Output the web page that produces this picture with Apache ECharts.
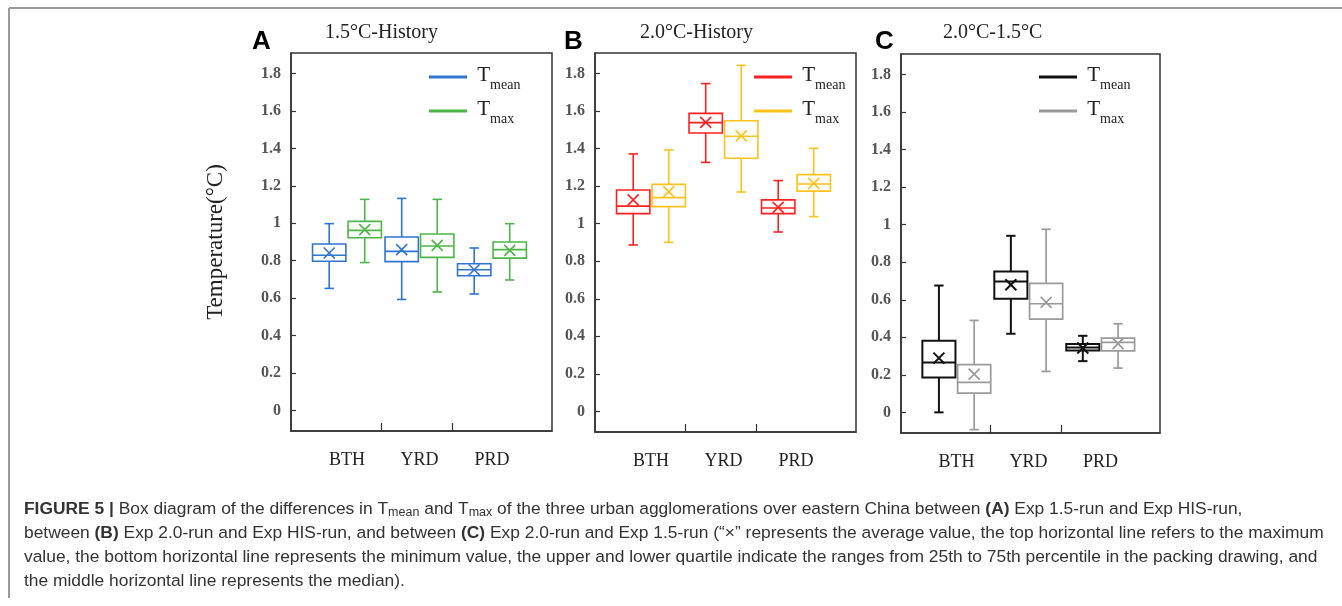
<!DOCTYPE html>
<html>
<head>
<meta charset="utf-8">
<script src="https://cdn.jsdelivr.net/npm/echarts@6/dist/echarts.min.js"></script>
<style>
  html, body { margin: 0; padding: 0; background: #fff; }
  #chart { width: 1342px; height: 606px; }
</style>
</head>
<body>
<div id="chart"></div>
<script>
// data: each box = [min, Q1, median, Q3, max]
const categories = ['BTH', 'YRD', 'PRD'];
const yTicks = [0, 0.2, 0.4, 0.6, 0.8, 1, 1.2, 1.4, 1.6, 1.8];

const tmeanA = [[0.652, 0.797, 0.829, 0.889, 0.998], [0.593, 0.795, 0.850, 0.927, 1.133], [0.622, 0.720, 0.752, 0.784, 0.868]];
const tmeanAvgA = [0.841, 0.859, 0.752];
const tmaxA = [[0.790, 0.923, 0.962, 1.010, 1.128], [0.633, 0.818, 0.879, 0.943, 1.128], [0.697, 0.814, 0.859, 0.900, 0.998]];
const tmaxAvgA = [0.966, 0.882, 0.855];

const tmeanB = [[0.887, 1.054, 1.094, 1.180, 1.372], [1.327, 1.484, 1.539, 1.588, 1.747], [0.956, 1.054, 1.084, 1.127, 1.230]];
const tmeanAvgB = [1.127, 1.540, 1.087];
const tmaxB = [[0.901, 1.091, 1.139, 1.210, 1.393], [1.169, 1.349, 1.466, 1.549, 1.844], [1.038, 1.174, 1.212, 1.262, 1.402]];
const tmaxAvgB = [1.171, 1.468, 1.215];

const tmeanC = [[0.000, 0.186, 0.266, 0.382, 0.676], [0.419, 0.605, 0.698, 0.751, 0.941], [0.273, 0.330, 0.346, 0.364, 0.408]];
const tmeanAvgC = [0.289, 0.680, 0.343];
const tmaxC = [[-0.092, 0.103, 0.160, 0.254, 0.490], [0.218, 0.497, 0.579, 0.687, 0.976], [0.236, 0.328, 0.373, 0.396, 0.472]];
const tmaxAvgC = [0.204, 0.586, 0.366];

const SERIF = "'Liberation Serif', 'Times New Roman', serif";
const SANS = "'Liberation Sans', Arial, sans-serif";
const BOX_SHIFT = 0.245, BOX_W = 0.46, CAP_W = 0.13, CROSS = 5.5;

const panels = [
  { key: 'A', title: '1.5°C-History', left: 291, top: 53, width: 261, height: 378, titleX: 325, letterX: 252, legendX: 429,
    mean: tmeanA, meanAvg: tmeanAvgA, max: tmaxA, maxAvg: tmaxAvgA, colors: ['#2f74d0', '#4db648'], widths: [1.6, 1.6] },
  { key: 'B', title: '2.0°C-History', left: 595, top: 53, width: 261, height: 379, titleX: 640, letterX: 564, legendX: 754,
    mean: tmeanB, meanAvg: tmeanAvgB, max: tmaxB, maxAvg: tmaxAvgB, colors: ['#ff2020', '#ffc21a'], widths: [1.6, 1.6] },
  { key: 'C', title: '2.0°C-1.5°C', left: 901, top: 54, width: 259, height: 379, titleX: 943, letterX: 875, legendX: 1039,
    mean: tmeanC, meanAvg: tmeanAvgC, max: tmaxC, maxAvg: tmaxAvgC, colors: ['#111111', '#9a9a9a'], widths: [2, 1.7] }
];

function boxRenderer(side, color, lw) {
  return function (params, api) {
    const x = api.value(0) + side * BOX_SHIFT;
    const pMin = api.coord([x, api.value(1)]);
    const pQ1 = api.coord([x, api.value(2)]);
    const pMed = api.coord([x, api.value(3)]);
    const pQ3 = api.coord([x, api.value(4)]);
    const pMax = api.coord([x, api.value(5)]);
    const pAvg = api.coord([x, api.value(6)]);
    const hw = api.size([BOX_W, 0])[0] / 2;
    const cw = api.size([CAP_W, 0])[0] / 2;
    const cx = pMed[0];
    const st = { stroke: color, lineWidth: lw };
    const line = (x1, y1, x2, y2) => ({ type: 'line', shape: { x1, y1, x2, y2 }, style: st });
    return {
      type: 'group',
      children: [
        line(cx, pQ3[1], cx, pMax[1]),
        line(cx, pQ1[1], cx, pMin[1]),
        line(cx - cw, pMax[1], cx + cw, pMax[1]),
        line(cx - cw, pMin[1], cx + cw, pMin[1]),
        { type: 'rect', shape: { x: cx - hw, y: pQ3[1], width: hw * 2, height: pQ1[1] - pQ3[1] },
          style: { stroke: color, lineWidth: lw, fill: 'rgba(0,0,0,0)' } },
        line(cx - hw, pMed[1], cx + hw, pMed[1]),
        line(pAvg[0] - CROSS, pAvg[1] - CROSS, pAvg[0] + CROSS, pAvg[1] + CROSS),
        line(pAvg[0] - CROSS, pAvg[1] + CROSS, pAvg[0] + CROSS, pAvg[1] - CROSS)
      ]
    };
  };
}

const legendRich = {
  t: { fontFamily: SERIF, fontSize: 21, color: '#222', lineHeight: 24, verticalAlign: 'top' },
  s: { fontFamily: SERIF, fontSize: 14, color: '#222', lineHeight: 14, padding: [13, 0, 0, 0], verticalAlign: 'top' }
};

const grids = [], xAxes = [], yAxes = [], series = [], legends = [], graphics = [];
panels.forEach((p, k) => {
  grids.push({ left: p.left, top: p.top, width: p.width, height: p.height, show: true,
    borderColor: '#333', borderWidth: 1.5, backgroundColor: 'transparent' });
  xAxes.push({
    gridIndex: k, type: 'value', min: -0.772, max: 2.828,
    axisLine: { show: true, onZero: false, lineStyle: { color: '#333', width: 1.5 } },
    axisTick: { show: true, inside: true, length: 8, customValues: [0.47, 1.45], lineStyle: { color: '#333', width: 1.2 } },
    axisLabel: { customValues: [0, 1, 2], formatter: v => categories[Math.round(v)], margin: 20,
      fontFamily: SERIF, fontSize: 18, color: '#222' },
    splitLine: { show: false }
  });
  yAxes.push({
    gridIndex: k, type: 'value', min: -0.11, max: 1.91,
    axisLine: { show: true, onZero: false, lineStyle: { color: '#333', width: 1.5 } },
    axisTick: { show: true, inside: true, length: 5, customValues: yTicks, lineStyle: { color: '#333', width: 1.2 } },
    axisLabel: { customValues: yTicks, formatter: v => String(Math.round(v * 10) / 10), margin: 10,
      fontFamily: SERIF, fontSize: 16, fontWeight: 'bold', color: '#555' },
    splitLine: { show: false },
    name: k === 0 ? 'Temperature(°C)' : '', nameLocation: 'middle', nameGap: 64, nameRotate: 90,
    nameTextStyle: { fontFamily: SERIF, fontSize: 23, color: '#222' }
  });
  [['Tmean', p.mean, p.meanAvg, -1], ['Tmax', p.max, p.maxAvg, 1]].forEach(([label, stats, avg, side], j) => {
    series.push({
      name: p.key + '-' + label, type: 'custom', xAxisIndex: k, yAxisIndex: k,
      itemStyle: { color: p.colors[j] },
      encode: { x: 0, y: [1, 5] },
      data: stats.map((s, i) => [i, ...s, avg[i]]),
      renderItem: boxRenderer(side, p.colors[j], p.widths[j])
    });
  });
  legends.push({
    data: [p.key + '-Tmean', p.key + '-Tmax'], orient: 'vertical', left: p.legendX, top: 65,
    icon: 'rect', itemWidth: 38, itemHeight: 3, itemGap: 7, selectedMode: false, padding: 0,
    formatter: name => '{t| T}{s|' + (name.endsWith('Tmean') ? 'mean' : 'max') + '}',
    textStyle: { rich: legendRich }
  });
  graphics.push({ type: 'text', x: p.titleX, y: 33, style: { text: p.title, fontFamily: SERIF, fontSize: 20, fill: '#222', verticalAlign: 'middle' } });
  graphics.push({ type: 'text', x: p.letterX, y: 42, style: { text: p.key, fontFamily: SANS, fontSize: 26, fontWeight: 'bold', fill: '#000', verticalAlign: 'middle' } });
});

// frame of the figure and caption
graphics.push({ type: 'line', shape: { x1: 9, y1: 8, x2: 1342, y2: 8 }, style: { stroke: '#9a9a9a', lineWidth: 2 } });
graphics.push({ type: 'line', shape: { x1: 9, y1: 8, x2: 9, y2: 598 }, style: { stroke: '#9a9a9a', lineWidth: 2 } });

const capRich = {
  n: { fontFamily: SANS, fontSize: 17.4, color: '#333', lineHeight: 22, verticalAlign: 'middle' },
  b: { fontFamily: SANS, fontSize: 17.4, fontWeight: 'bold', color: '#222', lineHeight: 22, verticalAlign: 'middle' },
  s: { fontFamily: SANS, fontSize: 12.5, color: '#333', lineHeight: 12, padding: [8, 0, 0, 0], verticalAlign: 'middle' }
};
const captionLines = [
  '{b|FIGURE 5 |}{n| Box diagram of the differences in T}{s|mean}{n| and T}{s|max}{n| of the three urban agglomerations over eastern China between }{b|(A)}{n| Exp 1.5-run and Exp HIS-run,}',
  '{n|between }{b|(B)}{n| Exp 2.0-run and Exp HIS-run, and between }{b|(C)}{n| Exp 2.0-run and Exp 1.5-run (“×” represents the average value, the top horizontal line refers to the maximum}',
  '{n|value, the bottom horizontal line represents the minimum value, the upper and lower quartile indicate the ranges from 25th to 75th percentile in the packing drawing, and}',
  '{n|the middle horizontal line represents the median).}'
];
captionLines.forEach((t, i) => {
  graphics.push({ type: 'text', x: 24, y: 509 + i * 24, style: { text: t, rich: capRich, verticalAlign: 'middle', fill: '#333' } });
});

const chart = echarts.init(document.getElementById('chart'), null, { renderer: 'canvas' });
chart.setOption({
  backgroundColor: '#fff',
  animation: false,
  grid: grids,
  xAxis: xAxes,
  yAxis: yAxes,
  legend: legends,
  series: series,
  graphic: graphics
});
</script>
</body>
</html>
